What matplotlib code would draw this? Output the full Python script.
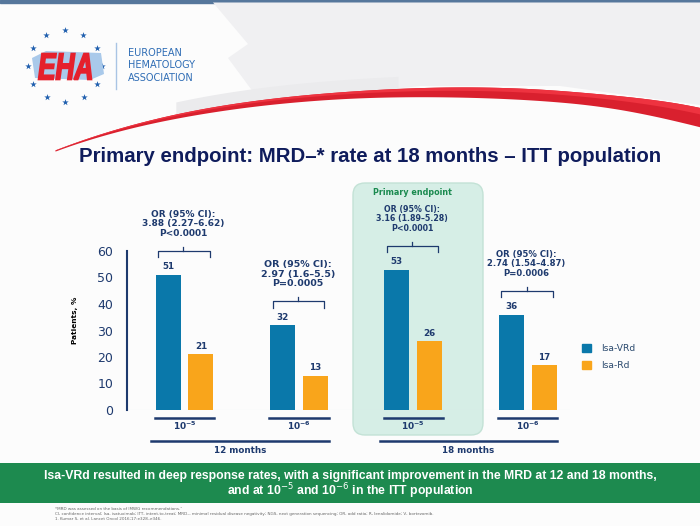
import numpy as np
import matplotlib
matplotlib.use('Agg')
import matplotlib.pyplot as plt
from matplotlib.patches import Rectangle, FancyBboxPatch, PathPatch, Patch, Polygon
from matplotlib.textpath import TextPath
from matplotlib.font_manager import FontProperties
from matplotlib.transforms import Affine2D

# data
depth = [r'$\mathbf{10^{-5}}$', r'$\mathbf{10^{-6}}$', r'$\mathbf{10^{-5}}$', r'$\mathbf{10^{-6}}$']
periods = ['12 months', '18 months']
isa_vrd = [51, 32, 53, 36]
isa_rd = [21, 13, 26, 17]
odds = ['OR (95% CI):\n3.88 (2.27\u20136.62)\nP<0.0001',
        'OR (95% CI):\n2.97 (1.6\u20135.5)\nP=0.0005',
        'OR (95% CI):\n3.16 (1.89\u20135.28)\nP<0.0001',
        'OR (95% CI):\n2.74 (1.54\u20134.87)\nP=0.0006']
yticks = [0, 10, 20, 30, 40, 50, 60]

navy = '#1e3a6e'
blue = '#0a78aa'
orange = '#f9a51b'

fig = plt.figure(figsize=(7, 5.26), dpi=100)
fig.patch.set_facecolor('#fcfcfc')

# background axes in pixel coords
bg = fig.add_axes([0, 0, 1, 1])
bg.set_xlim(0, 700)
bg.set_ylim(526, 0)
bg.axis('off')

bg.add_patch(Rectangle((0, 0), 700, 2.5, color='#56779c'))
bg.add_patch(Polygon([(213, 2.5), (700, 2.5), (700, 105), (560, 86), (420, 86),
                      (262, 104), (228, 58), (248, 44)], color='#f0f0f2', lw=0))

# red swoosh
cx = [55, 125, 200, 350, 450, 500, 600, 700]
cy = [150, 130, 109, 97, 91, 92, 101, 117]
th = [1.0, 3, 5, 7, 10, 11, 12, 20]
xs = np.linspace(55, 700, 300)
yc = np.polyval(np.polyfit(cx, cy, 4), xs)
tk = np.interp(xs, cx, th)
tk = np.convolve(np.pad(tk, 15, mode='edge'), np.ones(31) / 31, mode='valid')
shadow = (xs > 175) & (xs < 400)
bg.fill_between(xs[shadow], yc[shadow] - tk[shadow] / 2 - 12, yc[shadow] - tk[shadow] / 2,
                color='#ebebed', lw=0)
bg.fill_between(xs, yc - tk / 2, yc + tk / 2, color='#d9202e', lw=0)
bg.fill_between(xs, yc - tk / 2, yc - tk / 6, color='#ee3340', lw=0)

# EHA logo
ang = np.linspace(0, 2 * np.pi, 13)[:-1]
bg.scatter(65 + 37 * np.cos(ang), 66 + 36 * np.sin(ang), marker='*', s=24,
           color='#1f5fae', lw=0)
bg.add_patch(Polygon([(32, 58), (46, 51), (101, 53), (104, 74), (90, 80), (35, 78)],
                     color='#a9c9ea', lw=0))
fp = FontProperties(family='Liberation Sans', weight='bold', style='italic')
tp = TextPath((0, 0), 'EHA', size=1, prop=fp)
ext = tp.get_extents()
tr = Affine2D().translate(-ext.x0, -ext.y0).scale(53 / ext.width, -26 / ext.height).translate(38.5, 79.5)
bg.add_patch(PathPatch(tr.transform_path(tp), fc='#e5202c', ec='#e5202c', lw=1.2))
bg.plot([116, 116], [43, 89], color='#a9c4e4', lw=1)
for i, w in enumerate(['EUROPEAN', 'HEMATOLOGY', 'ASSOCIATION']):
    bg.text(128, 53 + 12.5 * i, w, fontsize=7, color='#2f6db5', va='center', ha='left')

bg.text(370.5, 157, 'Primary endpoint: MRD\u2013* rate at 18 months \u2013 ITT population',
        fontsize=14.7, weight='bold', family='Liberation Sans', color='#0f1c5c',
        ha='center', va='center')

# primary endpoint box
bg.add_patch(FancyBboxPatch((353, 183), 130, 252, boxstyle='round,pad=0,rounding_size=12',
                            fc='#d6eee6', ec='#c3e2d6', lw=1))
bg.text(412, 192.5, 'Primary endpoint', fontsize=5.8, weight='bold', color='#1a8a4f',
        ha='center', va='center')

# banner
bg.add_patch(Rectangle((0, 463), 700, 40, color='#1d8a4f', lw=0))
bfont = ['Liberation Sans Narrow', 'Liberation Sans', 'DejaVu Sans']
bg.text(350, 476, 'Isa-VRd resulted in deep response rates, with a significant improvement '
        'in the MRD at 12 and 18 months,', fontsize=8.8, weight='bold', family=bfont,
        color='white', ha='center', va='center')
bg.text(350, 491, 'and at 10$^{-5}$ and 10$^{-6}$ in the ITT population', fontsize=8.8,
        weight='bold', family=bfont, color='white', ha='center', va='center')

notes = ['*MRD was assessed on the basis of IMWG recommendations.\u00b9',
         'CI, confidence interval; Isa, isatuximab; ITT, intent-to-treat; MRD\u2013, minimal residual '
         'disease negativity; NGS, next generation sequencing; OR, odd ratio; R, lenalidomide; V, bortezomib.',
         '1. Kumar S, et al. Lancet Oncol 2016;17:e328\u2013e346.']
for i, n in enumerate(notes):
    bg.text(55, 509 + 5 * i, n, fontsize=3, color='#666666', va='center', ha='left')

# chart
ax = fig.add_axes([127 / 700, 116 / 526, 443 / 700, 159 / 526])
ax.patch.set_alpha(0)
ax.set_xlim(-0.5026, 3.3697)
ax.set_ylim(0, 60)

x = np.arange(len(isa_vrd))
off, bw = 0.1435, 0.218
ax.bar(x - off, isa_vrd, bw, color=blue, label='Isa-VRd', zorder=3)
ax.bar(x + off, isa_rd, bw, color=orange, label='Isa-Rd', zorder=3)
for xi, v in zip(x - off, isa_vrd):
    ax.text(xi, v + 3.0, str(v), fontsize=6.3, weight='bold', color=navy, ha='center', va='center')
for xi, v in zip(x + off, isa_rd):
    ax.text(xi, v + 3.0, str(v), fontsize=6.3, weight='bold', color=navy, ha='center', va='center')

or_size = [6.5, 6.8, 5.7, 6.1]
for i in x:
    top = max(isa_vrd[i], isa_rd[i]) + 9
    ax.plot([i - 0.23, i - 0.23, i + 0.22, i + 0.22], [top - 2.4, top, top, top - 2.4],
            color=navy, lw=0.9, clip_on=False, solid_joinstyle='round')
    ax.plot([i - 0.01, i - 0.01], [top, top + 1.5], color=navy, lw=0.9, clip_on=False)
    ax.text(i - 0.01, top + 10.2, odds[i], fontsize=or_size[i], weight='bold', color=navy,
            ha='center', va='center', linespacing=1.05, clip_on=False)

for i in x:
    ax.plot([i - 0.258, i + 0.26], [-2.9, -2.9], color=navy, lw=1.8, clip_on=False)
    ax.text(i, -6.0, depth[i], fontsize=6.5, color=navy, ha='center', va='center')
for j, p in enumerate(periods):
    a, b = 2 * j - 0.295, 2 * j + 1 + 0.26
    ax.plot([a, b], [-11.7, -11.7], color=navy, lw=1.8, clip_on=False)
    ax.text((a + b) / 2, -15.1, p, fontsize=6.3, weight='bold', color=navy,
            ha='center', va='center')

ax.axhline(0, color='#e6ecef', lw=0.8, zorder=1)
for s in ['top', 'right', 'bottom']:
    ax.spines[s].set_visible(False)
ax.spines['left'].set_color(navy)
ax.spines['left'].set_linewidth(1.5)
ax.set_xticks([])
ax.set_yticks(yticks)
ax.tick_params(axis='y', length=0, pad=10, labelsize=9, labelcolor=navy)
ax.text(-0.117, 0.566, 'Patients, %', transform=ax.transAxes, rotation=90, fontsize=5.3,
        weight='bold', color='black', ha='center', va='center')

fig.legend(handles=[Patch(color=blue), Patch(color=orange)], labels=['Isa-VRd', 'Isa-Rd'],
           loc='upper left', bbox_to_anchor=(582 / 700, 1 - 344 / 526), frameon=False,
           borderpad=0, borderaxespad=0, handlelength=0.95, handleheight=0.95,
           handletextpad=1.1, labelspacing=0.85, prop={'size': 6.6}, labelcolor='#2b4a6e')

fig.savefig('out.png', dpi=100, facecolor=fig.get_facecolor())
